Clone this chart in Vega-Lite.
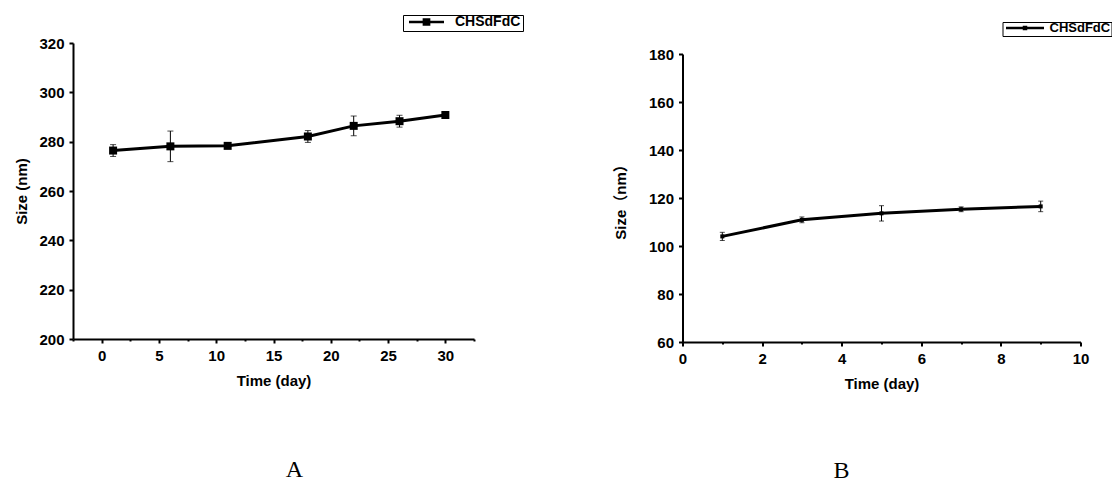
{
  "$schema": "https://vega.github.io/schema/vega-lite/v6.json",
  "background": "white",
  "padding": {"left": 14, "top": 14, "right": 0, "bottom": 0},
  "datasets": {
    "A": [
      {"day": 1, "size": 276.4, "lo": 274.0, "hi": 278.8},
      {"day": 6, "size": 278.1, "lo": 271.9, "hi": 284.3},
      {"day": 11, "size": 278.3, "lo": 277.3, "hi": 279.3},
      {"day": 18, "size": 282.1, "lo": 279.7, "hi": 284.5},
      {"day": 22, "size": 286.4, "lo": 282.4, "hi": 290.4},
      {"day": 26, "size": 288.3, "lo": 285.9, "hi": 290.7},
      {"day": 30, "size": 290.8, "lo": 290.0, "hi": 291.6}
    ],
    "B": [
      {"day": 1, "size": 104.0, "lo": 102.3, "hi": 105.7},
      {"day": 3, "size": 110.9, "lo": 109.7, "hi": 112.1},
      {"day": 5, "size": 113.6, "lo": 110.4, "hi": 116.8},
      {"day": 7, "size": 115.3, "lo": 114.3, "hi": 116.3},
      {"day": 9, "size": 116.5, "lo": 114.3, "hi": 118.7}
    ]
  },
  "config": {
    "view": {"stroke": null},
    "axis": {
      "grid": false,
      "domainColor": "black",
      "domainWidth": 2,
      "tickColor": "black",
      "tickWidth": 2,
      "labelFont": "Liberation Sans",
      "labelFontWeight": "bold",
      "labelFontSize": 15,
      "labelColor": "black",
      "labelPadding": 5,
      "labelOverlap": false,
      "labelFlush": false,
      "titleFont": "Liberation Sans, Noto Sans CJK SC",
      "titleFontWeight": "bold",
      "titleFontSize": 15,
      "titleColor": "black"
    },
    "legend": {
      "labelFont": "Liberation Sans",
      "labelFontWeight": "bold",
      "labelColor": "black",
      "strokeColor": "black",
      "fillColor": "white",
      "title": null
    }
  },
  "resolve": {"scale": {"color": "independent"}, "legend": {"color": "independent"}},
  "bounds": "flush",
  "spacing": 208.5,
  "hconcat": [
    {
      "width": 401,
      "height": 296,
      "title": {"text": "A", "orient": "bottom", "frame": "group", "offset": 70, "dx": 21, "font": "Liberation Serif", "fontSize": 24, "fontWeight": "normal", "color": "black"},
      "data": {"name": "A"},
      "encoding": {
        "x": {
          "field": "day", "type": "quantitative",
          "scale": {"domain": [-2.5, 32.5], "nice": false, "zero": false},
          "axis": {
            "title": "Time (day)",
            "titlePadding": 10,
            "values": [-2.5, 0, 2.5, 5, 7.5, 10, 12.5, 15, 17.5, 20, 22.5, 25, 27.5, 30, 32.5],
            "labelExpr": "datum.value % 5 === 0 ? datum.label : ''",
            "tickSize": {"condition": {"test": "datum.value % 5 !== 0", "value": 2}, "value": 4}
          }
        }
      },
      "layer": [
        {
          "mark": {"type": "errorbar", "ticks": {"size": 6}, "thickness": 1, "color": "black"},
          "encoding": {
            "y": {
              "field": "lo", "type": "quantitative", "title": "Size (nm)",
              "scale": {"domain": [200, 320], "nice": false, "zero": false},
              "axis": {
                "title": "Size (nm)",
                "titlePadding": 9,
                "values": [200, 210, 220, 230, 240, 250, 260, 270, 280, 290, 300, 310, 320],
                "labelExpr": "datum.value % 20 === 0 ? datum.label : ''",
                "tickSize": {"condition": {"test": "datum.value % 20 !== 0", "value": 2}, "value": 4}
              }
            },
            "y2": {"field": "hi"}
          }
        },
        {
          "mark": {"type": "line", "strokeWidth": 3, "color": "black"},
          "encoding": {
            "y": {"field": "size", "type": "quantitative", "title": "Size (nm)"},
            "color": {
              "datum": "CHSdFdC",
              "scale": {"range": ["black"]},
              "legend": {
                "orient": "none",
                "legendX": 330,
                "legendY": -28,
                "padding": 2,
                "labelFontSize": 14,
                "labelOffset": 7,
                "symbolSize": 1600,
                "clipHeight": 10,
                "symbolType": "M-0.875,0H0.875M-0.13,-0.13H0.13V0.13H-0.13Z",
                "encode": {"symbols": {"update": {"fill": {"value": "black"}, "stroke": {"value": "black"}, "strokeWidth": {"value": 2.5}}}}
              }
            }
          }
        },
        {
          "mark": {"type": "point", "shape": "square", "filled": true, "size": 64, "color": "black", "opacity": 1},
          "encoding": {"y": {"field": "size", "type": "quantitative", "title": "Size (nm)"}}
        }
      ]
    },
    {
      "bounds": "flush",
      "spacing": 10,
      "vconcat": [
        {
          "width": 398,
          "height": 1,
          "data": {"values": []},
          "mark": "rule",
          "encoding": {}
        },
        {
          "width": 398,
          "height": 288,
          "title": {"text": "B", "orient": "bottom", "frame": "group", "offset": 68, "dx": -40, "font": "Liberation Serif", "fontSize": 24, "fontWeight": "normal", "color": "black"},
          "data": {"name": "B"},
          "encoding": {
            "x": {
              "field": "day", "type": "quantitative",
              "scale": {"domain": [0, 10], "nice": false, "zero": false},
              "axis": {
                "title": "Time (day)",
                "titlePadding": 10,
                "values": [0, 1, 2, 3, 4, 5, 6, 7, 8, 9, 10],
                "labelExpr": "datum.value % 2 === 0 ? datum.label : ''",
                "tickSize": {"condition": {"test": "datum.value % 2 !== 0", "value": 2}, "value": 4}
              }
            }
          },
          "layer": [
            {
              "mark": {"type": "errorbar", "ticks": {"size": 5}, "thickness": 1, "color": "black"},
              "encoding": {
                "y": {
                  "field": "lo", "type": "quantitative", "title": "Size（nm）",
                  "scale": {"domain": [60, 180], "nice": false, "zero": false},
                  "axis": {
                    "title": "Size（nm）",
                    "titlePadding": 20,
                    "values": [60, 70, 80, 90, 100, 110, 120, 130, 140, 150, 160, 170, 180],
                    "labelExpr": "datum.value % 20 === 0 ? datum.label : ''",
                    "tickSize": {"condition": {"test": "datum.value % 20 !== 0", "value": 2}, "value": 4}
                  }
                },
                "y2": {"field": "hi"}
              }
            },
            {
              "mark": {"type": "line", "strokeWidth": 3, "color": "black"},
              "encoding": {
                "y": {"field": "size", "type": "quantitative", "title": "Size（nm）"},
                "color": {
                  "datum": "CHSdFdC",
                  "scale": {"range": ["black"]},
                  "legend": {
                    "orient": "none",
                    "legendX": 320,
                    "legendY": -21,
                    "padding": 1,
                    "labelFontSize": 13,
                    "labelOffset": 3,
                    "symbolSize": 1600,
                    "clipHeight": 10,
                    "symbolType": "M-0.95,0H0.95M-0.05,-0.05H0.05V0.05H-0.05Z",
                    "encode": {"symbols": {"update": {"fill": {"value": "black"}, "stroke": {"value": "black"}, "strokeWidth": {"value": 2.5}}}}
                  }
                }
              }
            },
            {
              "mark": {"type": "point", "shape": "square", "filled": true, "size": 16, "color": "black", "opacity": 1},
              "encoding": {"y": {"field": "size", "type": "quantitative", "title": "Size（nm）"}}
            }
          ]
        }
      ]
    }
  ]
}
